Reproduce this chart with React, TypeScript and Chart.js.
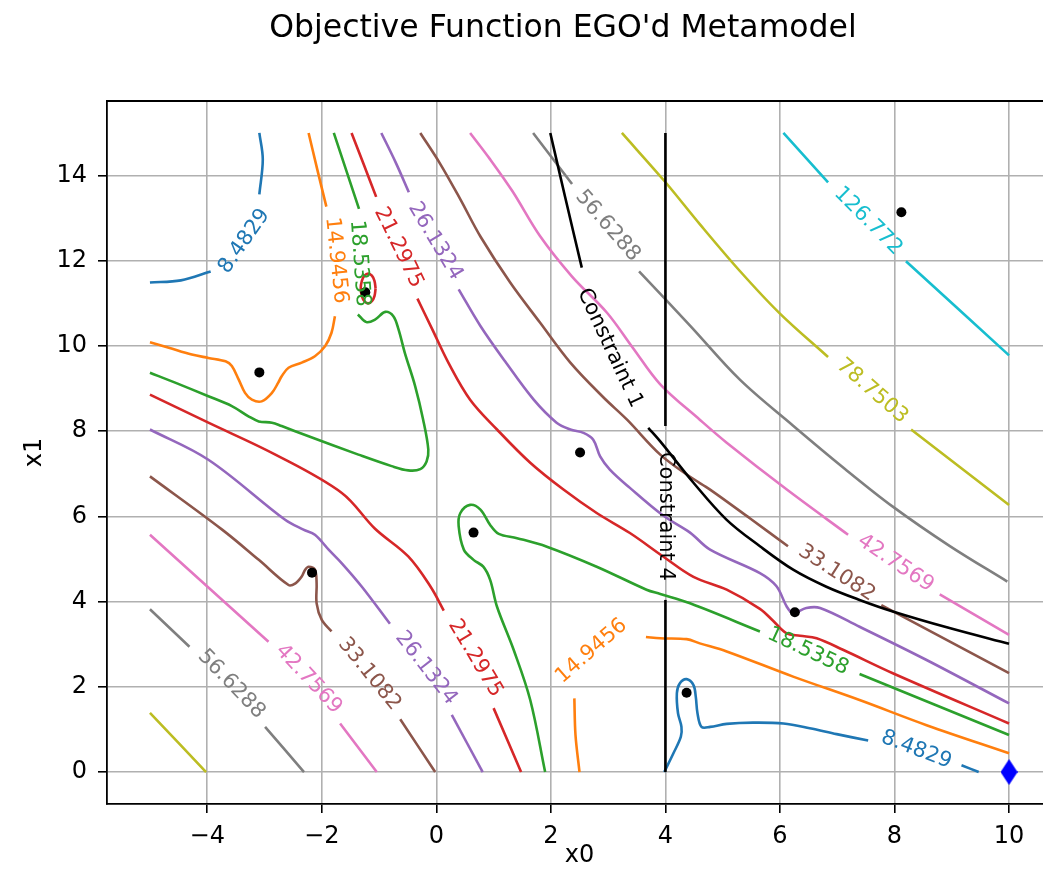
import React, { useEffect, useRef } from 'react';
import { Chart, registerables } from 'chart.js';

Chart.register(...registerables);

// ---------- text ----------
const TITLE = "Objective Function EGO'd Metamodel";
const X_LABEL = 'x0';
const Y_LABEL = 'x1';

// ---------- axes ----------
const xTicks = [-4, -2, 0, 2, 4, 6, 8, 10];
const yTicks = [0, 2, 4, 6, 8, 10, 12, 14];
const xRange = [-5.75, 10.75];
const yRange = [-0.75, 15.75];

// ---------- contour levels (segments of [x0, x1]) ----------
const levelNames = ['8.4829', '14.9456', '18.5358', '21.2975', '26.1324', '33.1082', '42.7569', '56.6288', '78.7503', '126.772'];

const lvl_8_4829 = [
  [[-5.0, 11.49], [-4.46, 11.54], [-3.94, 11.75]],
  [[-3.09, 13.56], [-3.03, 14.38], [-3.09, 15.0]],
  [[3.98, 0.0], [4.14, 0.44], [4.27, 0.83], [4.28, 1.06], [4.22, 1.38], [4.2, 1.85], [4.25, 2.08], [4.37, 2.18], [4.49, 2.04], [4.53, 1.77], [4.56, 1.38], [4.63, 1.06], [4.78, 1.06], [5.07, 1.13], [5.53, 1.16], [6.06, 1.14], [6.52, 1.03], [6.99, 0.89], [7.54, 0.74]],
  [[9.17, 0.16], [9.47, 0.0]],
];

const lvl_14_9456 = [
  [[-2.23, 15.0], [-2.08, 14.15], [-1.92, 13.27]],
  [[-1.77, 10.7], [-1.83, 10.31], [-1.94, 10.0], [-2.12, 9.76], [-2.35, 9.61], [-2.58, 9.49], [-2.7, 9.29], [-2.76, 9.14], [-2.87, 8.9], [-3.05, 8.7], [-3.22, 8.74], [-3.34, 8.9], [-3.45, 9.21], [-3.57, 9.53], [-3.68, 9.64], [-3.98, 9.72], [-4.27, 9.8], [-4.67, 9.96], [-5.0, 10.09]],
  [[2.5, 0.0], [2.43, 0.87], [2.41, 1.73]],
  [[3.66, 3.17], [3.91, 3.14], [4.37, 3.12], [4.6, 3.02], [5.07, 2.83], [6.23, 2.24], [7.39, 1.69], [8.56, 1.1], [10.0, 0.44]],
];

const lvl_18_5358 = [
  [[-1.79, 15.0], [-1.57, 14.11], [-1.35, 13.22]],
  [[-1.37, 10.74], [-1.22, 10.56], [-1.07, 10.62], [-0.89, 10.8], [-0.75, 10.7], [-0.66, 10.39], [-0.55, 9.84], [-0.37, 9.06], [-0.23, 8.27], [-0.14, 7.57], [-0.17, 7.29], [-0.28, 7.11], [-0.49, 7.08], [-0.78, 7.18], [-1.36, 7.45], [-2.23, 7.88], [-2.7, 8.12], [-2.87, 8.2], [-3.1, 8.23], [-3.28, 8.35], [-3.57, 8.59], [-3.98, 8.82], [-4.56, 9.14], [-5.0, 9.37]],
  [[1.9, 0.0], [1.64, 1.69], [1.35, 2.87], [1.06, 3.88], [0.94, 4.51], [0.82, 4.82], [0.65, 4.98], [0.48, 5.22], [0.39, 5.77], [0.42, 6.08], [0.59, 6.27], [0.77, 6.16], [0.94, 5.8], [1.09, 5.59], [1.41, 5.49], [1.93, 5.29], [2.8, 4.82], [3.67, 4.28], [3.91, 4.18], [4.43, 3.96], [5.65, 3.3]],
  [[7.39, 2.3], [10.0, 0.87]],
];

const lvl_21_2975 = [
  [[-1.48, 15.0], [-1.27, 14.27], [-1.05, 13.5]],
  [[-0.33, 11.11], [-0.07, 10.39], [0.21, 9.61], [0.59, 8.74], [1.06, 8.04], [1.64, 7.26], [2.22, 6.63], [2.8, 6.08], [3.38, 5.61], [3.96, 5.06], [4.49, 4.58], [5.07, 4.28], [5.65, 3.83], [5.88, 3.55], [6.11, 3.26], [6.35, 3.2], [6.64, 3.14], [7.1, 2.87], [7.97, 2.32], [10.0, 1.14]],
  [[-1.06, 11.35], [-1.08, 11.53], [-1.125, 11.65], [-1.19, 11.7], [-1.255, 11.65], [-1.3, 11.53], [-1.32, 11.35], [-1.3, 11.17], [-1.255, 11.05], [-1.19, 11.0], [-1.125, 11.05], [-1.08, 11.17], [-1.06, 11.35]],
  [[-5.0, 8.86], [-3.98, 8.2], [-2.81, 7.45], [-1.65, 6.55], [-1.07, 5.71], [-0.49, 5.06], [-0.1, 4.35], [0.13, 3.79]],
  [[1.0, 1.5], [1.48, 0.0]],
];

const lvl_26_1324 = [
  [[-0.96, 15.0], [-0.71, 14.31], [-0.48, 13.61]],
  [[0.39, 11.33], [0.77, 10.47], [1.2, 9.64], [1.7, 8.74], [2.1, 8.2], [2.34, 8.04], [2.57, 7.96], [2.74, 7.8], [2.86, 7.41], [3.03, 7.1], [3.38, 6.67], [3.96, 6.02], [4.43, 5.62], [4.78, 5.22], [5.65, 4.67], [5.94, 4.36], [6.12, 3.88], [6.23, 3.73], [6.46, 3.85], [6.7, 3.85], [7.39, 3.41], [8.56, 2.63], [10.0, 1.61]],
  [[-5.0, 8.04], [-3.98, 7.33], [-2.64, 5.92], [-2.32, 5.69], [-2.12, 5.57], [-1.88, 5.22], [-1.65, 4.9], [-1.3, 4.35], [-0.81, 3.48]],
  [[0.27, 1.34], [0.81, 0.0]],
];

const lvl_33_1082 = [
  [[-0.28, 15.0], [0.07, 14.27], [0.42, 13.44], [0.77, 12.57], [1.29, 11.49], [1.81, 10.55], [2.34, 9.61], [2.92, 8.79], [3.33, 8.27], [3.91, 7.45], [4.43, 6.93], [4.78, 6.63], [5.48, 5.95], [6.14, 5.3]],
  [[7.77, 3.92], [10.0, 2.32]],
  [[-5.0, 6.94], [-3.74, 5.69], [-3.1, 4.98], [-2.58, 4.39], [-2.46, 4.43], [-2.35, 4.59], [-2.29, 4.75], [-2.23, 4.82], [-2.12, 4.75], [-2.09, 4.43], [-2.09, 3.96], [-2.0, 3.57], [-1.83, 3.3]],
  [[-0.63, 1.24], [-0.02, 0.0]],
];

const lvl_42_7569 = [
  [[0.59, 15.0], [0.94, 14.38], [1.33, 13.63], [1.81, 12.58], [2.37, 11.63], [2.98, 10.78], [3.43, 9.96], [3.91, 9.1], [4.6, 8.27], [5.07, 7.73], [6.12, 6.63], [7.19, 5.57]],
  [[8.79, 4.17], [10.0, 3.22]],
  [[-5.0, 5.57], [-2.93, 3.06]],
  [[-1.68, 1.14], [-1.04, 0.0]],
];

const lvl_56_6288 = [
  [[1.69, 15.0], [2.37, 13.8]],
  [[3.54, 11.75], [4.43, 10.48], [5.3, 9.21], [6.23, 8.13], [7.13, 7.12], [7.97, 6.23], [8.96, 5.31], [9.97, 4.47]],
  [[-5.0, 3.82], [-4.31, 2.94]],
  [[-2.99, 1.06], [-2.31, 0.0]],
];

const lvl_78_7503 = [
  [[3.24, 15.0], [3.99, 13.86], [4.6, 12.86], [5.3, 11.76], [6.0, 10.76], [6.84, 9.74]],
  [[8.29, 8.04], [10.0, 6.27]],
  [[-5.0, 1.39], [-4.02, 0.0]],
];

const lvl_126_772 = [
  [[6.06, 15.0], [6.84, 13.84]],
  [[8.2, 11.99], [10.0, 9.78]],
];

// ---------- constraint boundaries ----------
const constraint1 = [
  [[1.99, 15.0], [2.25, 13.49], [2.54, 11.84]],
  [[3.7, 8.08], [3.91, 7.76], [4.49, 6.79], [5.07, 5.92], [5.65, 5.3], [6.23, 4.75], [6.81, 4.35], [7.39, 4.04], [7.97, 3.77], [8.96, 3.38], [10.0, 3.01]],
];
const constraint4 = [
  [[4.0, 15.0], [4.0, 8.12]],
  [[4.0, 4.04], [4.0, 0.0]],
];

// ---------- sample points and best point ----------
const sampleX0 = [-3.09, -1.24, -2.17, 2.51, 0.65, 6.26, 4.37, 8.12];
const sampleX1 = [9.38, 11.26, 4.68, 7.5, 5.62, 3.75, 1.86, 13.14];
const bestX0 = [10.0];
const bestX1 = [0.0];

// ---------- inline contour labels: text, x0, x1, rotation(deg) ----------
const contourLabels: [string, number, number, number][] = [
  ['8.4829', -3.35, 12.46, -55],
  ['8.4829', 8.38, 0.52, 21],
  ['14.9456', -1.75, 12.01, 84],
  ['14.9456', 2.71, 2.84, -41],
  ['18.5358', -1.34, 11.94, 86],
  ['18.5358', 6.49, 2.83, 25],
  ['21.2975', -0.66, 12.31, 64],
  ['21.2975', 0.68, 2.67, 59],
  ['26.1324', -0.02, 12.46, 59],
  ['26.1324', -0.18, 2.44, 52],
  ['33.1082', 6.99, 4.67, 33],
  ['33.1082', -1.17, 2.3, 51],
  ['42.7569', 8.02, 4.9, 34],
  ['42.7569', -2.23, 2.18, 47],
  ['56.6288', 2.99, 12.82, 49],
  ['56.6288', -3.58, 2.06, 46],
  ['78.7503', 7.61, 8.94, 41],
  ['126.772', 7.54, 12.93, 45],
  ['Constraint 1', 3.03, 9.95, 65],
  ['Constraint 4', 4.0, 6.0, 90],
];

// ---------- styles ----------
const COLORS = ['#1f77b4', '#ff7f0e', '#2ca02c', '#d62728', '#9467bd', '#8c564b', '#e377c2', '#7f7f7f', '#bcbd22', '#17becf'];
const FONT = "'DejaVu Sans', 'Liberation Sans', sans-serif";

const levelSegments = [lvl_8_4829, lvl_14_9456, lvl_18_5358, lvl_21_2975, lvl_26_1324, lvl_33_1082, lvl_42_7569, lvl_56_6288, lvl_78_7503, lvl_126_772];

function labelColor(text: string) {
  const i = levelNames.indexOf(text);
  return i >= 0 ? COLORS[i] : '#000000';
}

function fmtTick(v: number) {
  return v < 0 ? '\u2212' + Math.abs(v) : String(v);
}

export default function App() {
  const ref = useRef<HTMLCanvasElement | null>(null);

  useEffect(() => {
    if (!ref.current) return;

    const diamond = document.createElement('canvas');
    diamond.width = 17;
    diamond.height = 26;
    const dc = diamond.getContext('2d')!;
    dc.fillStyle = '#0000ff';
    dc.beginPath();
    dc.moveTo(8.5, 0);
    dc.lineTo(17, 13);
    dc.lineTo(8.5, 26);
    dc.lineTo(0, 13);
    dc.closePath();
    dc.fill();

    const lineDs = (seg: number[][], color: string, order: number) => ({
      data: seg.map(([x, y]) => ({ x, y })),
      showLine: true,
      borderColor: color,
      backgroundColor: color,
      borderWidth: 2.6,
      pointRadius: 0,
      pointHoverRadius: 0,
      tension: 0.35,
      fill: false,
      order,
    });

    const datasets: any[] = [];
    levelSegments.forEach((segs, i) => {
      segs.forEach((seg) => datasets.push(lineDs(seg, COLORS[i], 10 + i)));
    });
    [constraint1, constraint4].forEach((segs) => {
      segs.forEach((seg) => datasets.push(lineDs(seg, '#000000', 2)));
    });
    datasets.push({
      data: sampleX0.map((x, i) => ({ x, y: sampleX1[i] })),
      showLine: false,
      pointRadius: 5,
      pointHoverRadius: 5,
      pointBackgroundColor: '#000000',
      pointBorderWidth: 0,
      order: 1,
    });
    datasets.push({
      data: bestX0.map((x, i) => ({ x, y: bestX1[i] })),
      showLine: false,
      pointStyle: diamond,
      pointRadius: 13,
      order: 0,
    });

    const overlay = {
      id: 'overlay',
      afterDatasetsDraw(chart: any) {
        const { ctx, chartArea, scales } = chart;
        const xs = scales.x;
        const ys = scales.y;
        ctx.save();
        // top & right spines
        ctx.strokeStyle = '#000000';
        ctx.lineWidth = 1.8;
        ctx.beginPath();
        ctx.moveTo(chartArea.left, chartArea.top);
        ctx.lineTo(chartArea.right, chartArea.top);
        ctx.lineTo(chartArea.right, chartArea.bottom);
        ctx.stroke();
        // inline labels
        ctx.font = `21px ${FONT}`;
        ctx.textAlign = 'center';
        ctx.textBaseline = 'middle';
        for (const [t, lx, ly, a] of contourLabels) {
          ctx.save();
          ctx.translate(xs.getPixelForValue(lx), ys.getPixelForValue(ly));
          ctx.rotate((a * Math.PI) / 180);
          ctx.fillStyle = labelColor(t);
          ctx.fillText(t, 0, 0);
          ctx.restore();
        }
        // title
        ctx.font = `31.5px ${FONT}`;
        ctx.fillStyle = '#000000';
        ctx.textAlign = 'center';
        ctx.textBaseline = 'alphabetic';
        ctx.fillText(TITLE, 563, 37);
        ctx.restore();
      },
    };

    const tickFont = { family: FONT, size: 24 };
    const grid = { color: '#b0b0b0', lineWidth: 1.6, tickColor: '#000000', tickLength: 9, tickWidth: 1.6 };
    const border = { color: '#000000', width: 1.8 };

    const chart = new Chart(ref.current, {
      type: 'scatter',
      data: { datasets },
      options: {
        animation: false,
        responsive: false,
        devicePixelRatio: 1,
        events: [],
        layout: { padding: { left: 23, right: 74, top: 101, bottom: 10 } },
        plugins: { legend: { display: false }, tooltip: { enabled: false }, title: { display: false } },
        scales: {
          x: {
            type: 'linear',
            min: xRange[0],
            max: xRange[1],
            afterBuildTicks: (s: any) => { s.ticks = xTicks.map((v) => ({ value: v })); },
            afterFit: (s: any) => { s.height = 70; },
            ticks: { callback: (v: any) => fmtTick(Number(v)), font: tickFont, color: '#000000', padding: 9, maxRotation: 0, autoSkip: false },
            grid,
            border,
            title: { display: true, text: X_LABEL, font: { family: FONT, size: 24, lineHeight: 1 }, color: '#000000', padding: { top: 0, bottom: 6 } },
          },
          y: {
            type: 'linear',
            min: yRange[0],
            max: yRange[1],
            afterBuildTicks: (s: any) => { s.ticks = yTicks.map((v) => ({ value: v })); },
            afterFit: (s: any) => { s.width = 84; },
            ticks: { callback: (v: any) => fmtTick(Number(v)), font: tickFont, color: '#000000', padding: 11, autoSkip: false },
            grid,
            border,
            title: { display: true, text: Y_LABEL, font: { family: FONT, size: 24, lineHeight: 1 }, color: '#000000', padding: 0 },
          },
        },
      },
      plugins: [overlay],
    } as any);

    return () => chart.destroy();
  }, []);

  return (
    <div style={{ position: 'fixed', left: 0, top: 0, width: 1043, height: 884, overflow: 'hidden', background: '#ffffff' }}>
      <div style={{ width: 1126, height: 884 }}>
        <canvas ref={ref} width={1126} height={884} style={{ display: 'block', width: 1126, height: 884 }} />
      </div>
    </div>
  );
}
